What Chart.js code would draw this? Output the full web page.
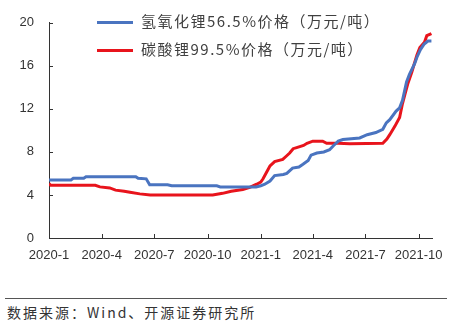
<!DOCTYPE html>
<html>
<head>
<meta charset="utf-8">
<script src="https://cdn.jsdelivr.net/npm/chart.js@4"></script>
<style>
  body { margin: 0; background: #fff; }
  #wrap { position: relative; width: 463px; height: 326px; overflow: hidden; }
  #chart { position: absolute; left: 0; top: 0; }
  .leg { position: absolute; left: 97px; font: 15px "Noto Sans CJK SC", sans-serif; color: #404040; letter-spacing: 1.5px; white-space: nowrap; }
  .leg i { display: inline-block; width: 36px; height: 3px; vertical-align: middle; margin-right: 8px; }
  #rule { position: absolute; left: 5px; top: 298px; width: 442px; height: 1px; background: #555; }
  #src { position: absolute; left: 7px; top: 302px; font: 14px "Noto Sans CJK SC", sans-serif; color: #333; letter-spacing: 2px; white-space: nowrap; }
</style>
</head>
<body>
<div id="wrap">
  <canvas id="chart" width="463" height="270"></canvas>
  <div class="leg" style="top:10px"><i style="background:#4a74c0"></i>氢氧化锂56.5%价格（万元/吨）</div>
  <div class="leg" style="top:38px"><i style="background:#e8141c"></i>碳酸锂99.5%价格（万元/吨）</div>
  <div id="rule"></div>
  <div id="src">数据来源：Wind、开源证券研究所</div>
</div>
<script>
// x axis ticks
const tickDates = ['2020-01-01', '2020-04-01', '2020-07-01', '2020-10-01', '2021-01-01', '2021-04-01', '2021-07-01', '2021-10-01'];
const tickLabels = ['2020-1', '2020-4', '2020-7', '2020-10', '2021-1', '2021-4', '2021-7', '2021-10'];

// 氢氧化锂56.5% price
const lohDates = ['2020-01-01', '2020-02-08', '2020-02-12', '2020-03-01', '2020-03-05', '2020-05-30', '2020-06-03', '2020-06-17',
  '2020-06-23', '2020-07-24', '2020-07-31', '2020-10-17', '2020-10-23', '2020-12-24', '2021-01-01', '2021-01-08',
  '2021-01-17', '2021-01-25', '2021-02-09', '2021-02-15', '2021-02-25', '2021-03-08', '2021-03-15', '2021-03-24',
  '2021-03-29', '2021-04-08', '2021-04-20', '2021-04-30', '2021-05-07', '2021-05-15', '2021-05-23', '2021-06-21',
  '2021-07-04', '2021-07-19', '2021-07-31', '2021-08-06', '2021-08-12', '2021-08-23', '2021-08-29', '2021-09-03',
  '2021-09-10', '2021-09-15', '2021-09-24', '2021-09-28', '2021-10-04', '2021-10-10', '2021-10-17', '2021-10-23'];
const lohPrice = [5.4, 5.4, 5.55, 5.55, 5.7, 5.7, 5.55, 5.5,
  4.95, 4.95, 4.85, 4.85, 4.75, 4.75, 4.85, 5.0,
  5.3, 5.8, 5.9, 6.0, 6.5, 6.6, 6.85, 7.2,
  7.7, 7.9, 8.0, 8.2, 8.6, 9.0, 9.15, 9.3,
  9.6, 9.8, 10.1, 10.7, 11.0, 11.8, 12.1, 12.8,
  14.5, 15.2, 16.2, 16.8, 17.5, 18.0, 18.3, 18.3];

// 碳酸锂99.5% price
const lcDates = ['2020-01-01', '2020-01-04', '2020-03-21', '2020-03-29', '2020-04-15', '2020-04-25', '2020-05-10', '2020-05-20',
  '2020-06-06', '2020-06-24', '2020-10-10', '2020-10-27', '2020-11-11', '2020-12-01', '2020-12-13', '2020-12-25',
  '2021-01-01', '2021-01-05', '2021-01-12', '2021-01-17', '2021-01-25', '2021-02-08', '2021-02-14', '2021-02-20',
  '2021-02-26', '2021-03-04', '2021-03-16', '2021-03-22', '2021-04-01', '2021-04-18', '2021-04-25', '2021-05-15',
  '2021-06-04', '2021-07-31', '2021-08-07', '2021-08-12', '2021-08-21', '2021-08-29', '2021-09-03', '2021-09-07',
  '2021-09-12', '2021-09-19', '2021-09-28', '2021-10-03', '2021-10-11', '2021-10-15', '2021-10-23'];
const lcPrice = [5.05, 4.9, 4.9, 4.75, 4.65, 4.45, 4.35, 4.25,
  4.1, 4.0, 4.0, 4.15, 4.35, 4.5, 4.7, 5.0,
  5.2, 5.5, 6.2, 6.7, 7.1, 7.3, 7.6, 7.9,
  8.3, 8.4, 8.6, 8.8, 9.0, 9.0, 8.8, 8.8,
  8.75, 8.8, 9.2, 9.6, 10.4, 11.2, 12.5, 13.3,
  14.3, 15.4, 17.0, 17.7, 18.2, 18.8, 19.0];

// days since 2020-01-01
function dayNum(s) {
  return Math.round((Date.parse(s) - Date.parse('2020-01-01')) / 86400000);
}
function toPoints(dates, vals) {
  return dates.map((d, i) => ({ x: dayNum(d), y: vals[i] }));
}

// small tick marks pointing into the plot, like the original
const innerTicks = {
  id: 'innerTicks',
  afterDraw(chart) {
    const ctx = chart.ctx, a = chart.chartArea;
    const xs = chart.scales.x, ys = chart.scales.y;
    ctx.save();
    ctx.strokeStyle = '#333';
    ctx.lineWidth = 1;
    ctx.beginPath();
    xs.ticks.forEach(t => {
      const px = Math.round(xs.getPixelForValue(t.value)) + 0.5;
      ctx.moveTo(px, a.bottom);
      ctx.lineTo(px, a.bottom - 4);
    });
    ys.ticks.forEach(t => {
      const py = Math.round(ys.getPixelForValue(t.value)) + 0.5;
      ctx.moveTo(a.left, py);
      ctx.lineTo(a.left + 4, py);
    });
    ctx.stroke();
    ctx.restore();
  }
};

new Chart(document.getElementById('chart'), {
  type: 'line',
  data: {
    datasets: [{
      label: '氢氧化锂56.5%价格（万元/吨）',
      data: toPoints(lohDates, lohPrice),
      borderColor: '#4a74c0',
      borderWidth: 3,
      pointRadius: 0,
      tension: 0
    }, {
      label: '碳酸锂99.5%价格（万元/吨）',
      data: toPoints(lcDates, lcPrice),
      borderColor: '#e8141c',
      borderWidth: 3,
      pointRadius: 0,
      tension: 0
    }]
  },
  options: {
    responsive: false,
    animation: false,
    layout: { padding: { top: 19, right: 31, left: 0, bottom: 0 } },
    plugins: { legend: { display: false }, tooltip: { enabled: false } },
    scales: {
      x: {
        type: 'linear',
        min: 0,
        max: 662,
        afterBuildTicks: s => { s.ticks = tickDates.map(d => ({ value: dayNum(d) })); },
        afterFit: s => { s.height = 32; },
        grid: { display: false, drawTicks: false },
        border: { color: '#333', width: 1 },
        ticks: {
          padding: 10,
          maxRotation: 0,
          autoSkip: false,
          color: '#333',
          font: { family: 'Liberation Sans', size: 13 },
          callback: (v) => {
            const i = tickDates.findIndex(d => dayNum(d) === v);
            return i >= 0 ? tickLabels[i] : '';
          }
        }
      },
      y: {
        min: 0,
        max: 20,
        afterFit: s => { s.width = 49; },
        grid: { display: false, drawTicks: false },
        border: { color: '#333', width: 1 },
        ticks: {
          stepSize: 4,
          padding: 15,
          color: '#333',
          font: { family: 'Liberation Sans', size: 13 }
        }
      }
    }
  },
  plugins: [innerTicks]
});
</script>
</body>
</html>
